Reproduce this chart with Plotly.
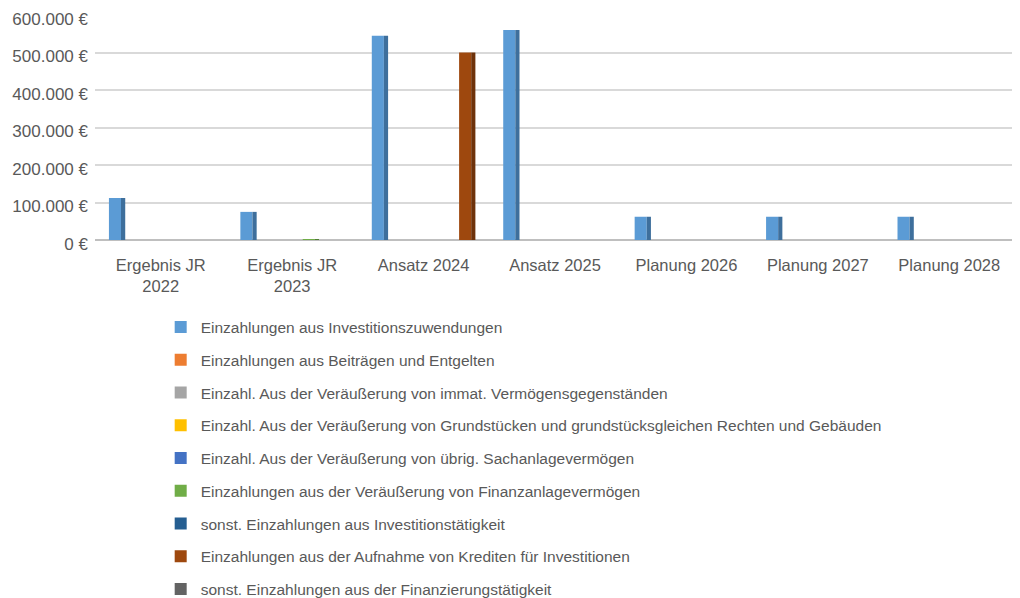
import plotly.graph_objects as go

categories = ["Ergebnis JR<br>2022", "Ergebnis JR<br>2023", "Ansatz 2024", "Ansatz 2025",
              "Planung 2026", "Planung 2027", "Planung 2028"]

series_names = [
    "Einzahlungen aus Investitionszuwendungen",
    "Einzahlungen aus Beiträgen und Entgelten",
    "Einzahl. Aus der Veräußerung von immat. Vermögensgegenständen",
    "Einzahl. Aus der Veräußerung von Grundstücken und grundstücksgleichen Rechten und Gebäuden",
    "Einzahl. Aus der Veräußerung von übrig. Sachanlagevermögen",
    "Einzahlungen aus der Veräußerung von Finanzanlagevermögen",
    "sonst. Einzahlungen aus Investitionstätigkeit",
    "Einzahlungen aus der Aufnahme von Krediten für Investitionen",
    "sonst. Einzahlungen aus der Finanzierungstätigkeit",
]

investitionszuwendungen = [112000, 75000, 545000, 560000, 62000, 62000, 62000]
beitraege_entgelte = [0, 0, 0, 0, 0, 0, 0]
immat_vermoegen = [0, 0, 0, 0, 0, 0, 0]
grundstuecke = [0, 0, 0, 0, 0, 0, 0]
sachanlagen = [0, 0, 0, 0, 0, 0, 0]
finanzanlagen = [0, 2000, 0, 0, 0, 0, 0]
sonst_investition = [0, 0, 0, 0, 0, 0, 0]
kredite = [0, 0, 500000, 0, 0, 0, 0]
sonst_finanzierung = [0, 0, 0, 0, 0, 0, 0]

tick_values = [0, 100000, 200000, 300000, 400000, 500000, 600000]
tick_labels = ["0 €", "100.000 €", "200.000 €", "300.000 €", "400.000 €", "500.000 €", "600.000 €"]

series_values = [investitionszuwendungen, beitraege_entgelte, immat_vermoegen, grundstuecke,
                 sachanlagen, finanzanlagen, sonst_investition, kredite, sonst_finanzierung]

colors = ["#5B9BD5", "#ED7D31", "#A5A5A5", "#FFC000", "#4472C4",
          "#70AD47", "#255E91", "#9E480E", "#636363"]
side_colors = ["#3E6F9C", "#B05C22", "#7A7A7A", "#BF9000", "#2F5597",
               "#507E33", "#193F63", "#6E320A", "#444444"]

fig = go.Figure()
unit = 0.0949
front = 0.092
side = 0.032
start = -0.394
for i, (name, vals) in enumerate(zip(series_names, series_values)):
    fig.add_trace(go.Bar(
        x=categories, y=vals, name=name,
        marker=dict(color=colors[i], line=dict(width=0)),
        width=front, offset=start + i * unit,
        legendgroup="g%d" % i,
    ))
for i, (name, vals) in enumerate(zip(series_names, series_values)):
    fig.add_trace(go.Bar(
        x=categories, y=vals, name=name, showlegend=False,
        marker=dict(color=side_colors[i], line=dict(width=0)),
        width=side, offset=start + i * unit + front,
        legendgroup="g%d" % i, hoverinfo="skip",
    ))

fig.update_layout(
    width=1012, height=590,
    barmode="overlay",
    paper_bgcolor="white", plot_bgcolor="white",
    margin=dict(l=87, r=5, t=7, b=358, autoexpand=False),
    font=dict(family="Liberation Sans, Arial, sans-serif", size=14, color="#595959"),
    xaxis=dict(showgrid=False, showline=False, ticks="", ticklabelstandoff=13,
               tickfont=dict(size=16.5, color="#595959")),
    yaxis=dict(range=[0, 600000], tickvals=tick_values, ticktext=tick_labels,
               showgrid=True, gridcolor="#D9D9D9",
               gridwidth=1.5, zeroline=True, zerolinecolor="#BFBFBF", zerolinewidth=1.5,
               showline=False, ticks="", ticklabelstandoff=6, ticklabelshift=4,
               ticklabeloverflow="allow",
               tickfont=dict(size=17, color="#595959")),
    legend=dict(orientation="v", x=0.0714, xanchor="left", y=-0.313, yanchor="top",
                font=dict(size=15.5, color="#595959"), tracegroupgap=9.6,
                itemwidth=30, bgcolor="rgba(0,0,0,0)", maxheight=1),
    showlegend=True,
)

fig.write_html("out.html")
